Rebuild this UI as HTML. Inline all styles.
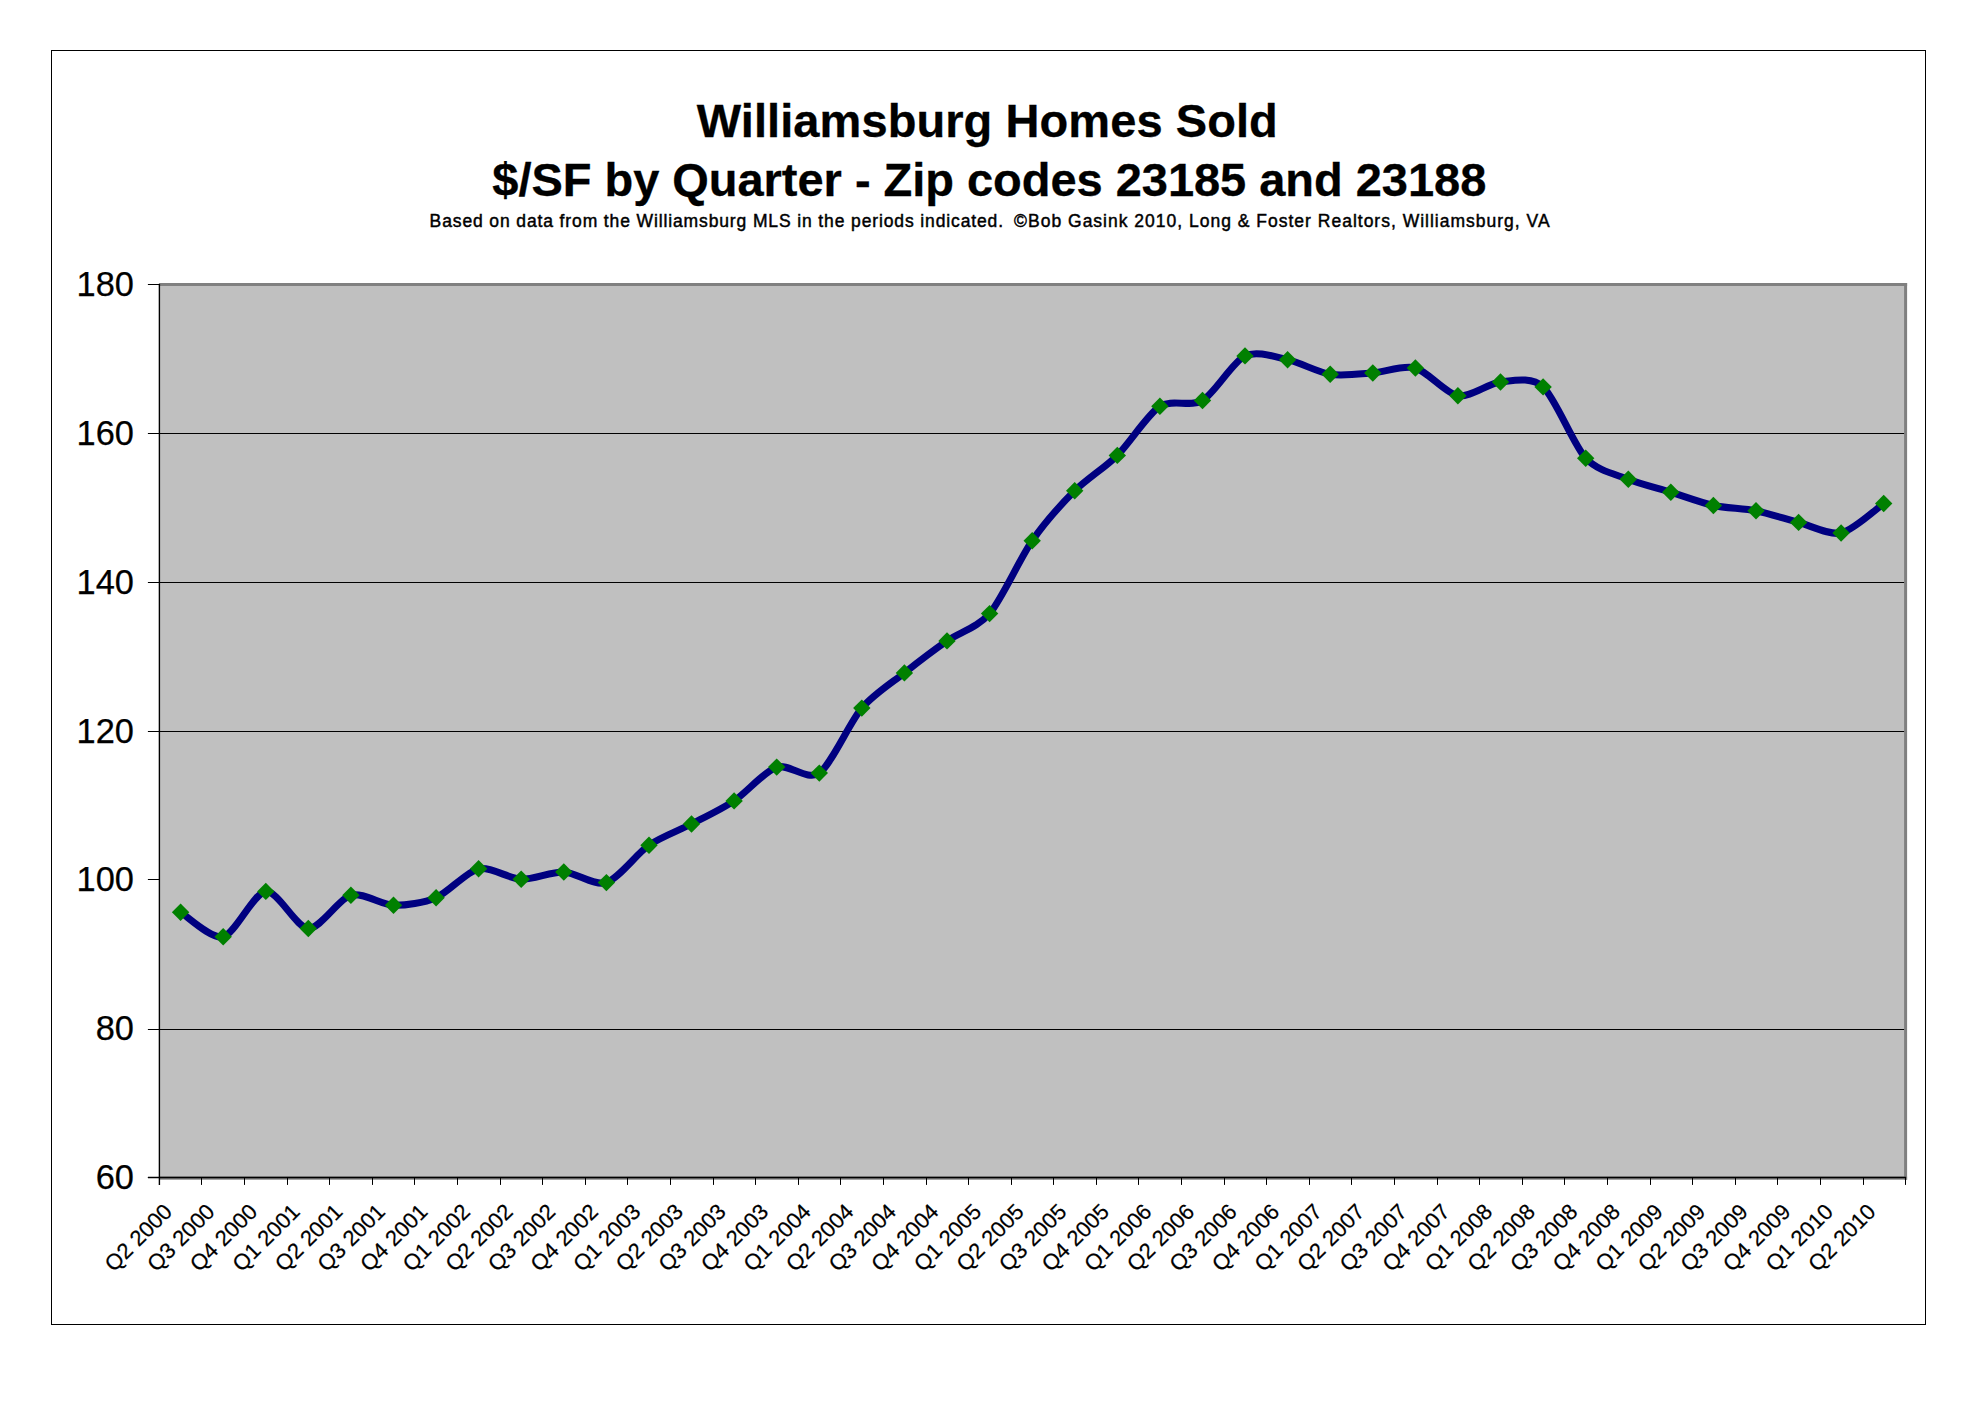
<!DOCTYPE html>
<html><head><meta charset="utf-8"><title>Williamsburg Homes Sold</title>
<style>
html,body{margin:0;padding:0;background:#fff;}
body{width:1985px;height:1407px;overflow:hidden;}
svg{display:block;font-family:"Liberation Sans",Arial,sans-serif;fill:#000;}
.t{font-weight:bold;font-size:47px;text-anchor:middle;stroke:#000;stroke-width:0.3px;}
.s{font-size:17.5px;text-anchor:middle;stroke:#000;stroke-width:0.45px;}
.y{font-size:34.4px;text-anchor:end;stroke:#000;stroke-width:0.25px;}
.x{font-size:22px;text-anchor:end;stroke:#000;stroke-width:0.2px;}
</style></head><body>
<svg width="1985" height="1407" viewBox="0 0 1985 1407">
<rect x="0" y="0" width="1985" height="1407" fill="#fff"/>
<rect x="51.5" y="50.5" width="1874" height="1274" fill="none" stroke="#000" stroke-width="1"/>

<rect x="159.4" y="284.5" width="1746.2" height="893.2" fill="#c0c0c0"/>
<rect x="158.9" y="283.0" width="1748.2" height="3" fill="#808080"/>
<rect x="1904.1" y="283.0" width="3" height="896.7" fill="#808080"/>
<rect x="159.4" y="1176.5" width="1747.7" height="3.2" fill="#808080"/>
<line x1="159.4" y1="1029.5" x2="1904.1" y2="1029.5" stroke="#000" stroke-width="1"/>
<line x1="159.4" y1="731.5" x2="1904.1" y2="731.5" stroke="#000" stroke-width="1"/>
<line x1="159.4" y1="582.5" x2="1904.1" y2="582.5" stroke="#000" stroke-width="1"/>
<line x1="159.4" y1="433.5" x2="1904.1" y2="433.5" stroke="#000" stroke-width="1"/>
<line x1="159.4" y1="284.0" x2="159.4" y2="1184.9" stroke="#000" stroke-width="1.4"/>
<line x1="147.9" y1="1177.5" x2="1906.1" y2="1177.5" stroke="#000" stroke-width="1.3"/>
<line x1="147.9" y1="1177.5" x2="159.4" y2="1177.5" stroke="#000" stroke-width="1"/>
<text class="y" x="134" y="1189.1">60</text>
<line x1="147.9" y1="1029.5" x2="159.4" y2="1029.5" stroke="#000" stroke-width="1"/>
<text class="y" x="134" y="1040.2">80</text>
<line x1="147.9" y1="879.5" x2="159.4" y2="879.5" stroke="#000" stroke-width="1"/>
<text class="y" x="134" y="891.4">100</text>
<line x1="147.9" y1="731.5" x2="159.4" y2="731.5" stroke="#000" stroke-width="1"/>
<text class="y" x="134" y="742.5">120</text>
<line x1="147.9" y1="582.5" x2="159.4" y2="582.5" stroke="#000" stroke-width="1"/>
<text class="y" x="134" y="593.6">140</text>
<line x1="147.9" y1="433.5" x2="159.4" y2="433.5" stroke="#000" stroke-width="1"/>
<text class="y" x="134" y="444.8">160</text>
<line x1="147.9" y1="284.5" x2="159.4" y2="284.5" stroke="#000" stroke-width="1"/>
<text class="y" x="134" y="295.9">180</text>
<line x1="159.5" y1="1177.7" x2="159.5" y2="1184.9" stroke="#000" stroke-width="1.05"/>
<line x1="201.5" y1="1177.7" x2="201.5" y2="1184.9" stroke="#000" stroke-width="1.05"/>
<line x1="244.5" y1="1177.7" x2="244.5" y2="1184.9" stroke="#000" stroke-width="1.05"/>
<line x1="287.5" y1="1177.7" x2="287.5" y2="1184.9" stroke="#000" stroke-width="1.05"/>
<line x1="329.5" y1="1177.7" x2="329.5" y2="1184.9" stroke="#000" stroke-width="1.05"/>
<line x1="372.5" y1="1177.7" x2="372.5" y2="1184.9" stroke="#000" stroke-width="1.05"/>
<line x1="414.5" y1="1177.7" x2="414.5" y2="1184.9" stroke="#000" stroke-width="1.05"/>
<line x1="457.5" y1="1177.7" x2="457.5" y2="1184.9" stroke="#000" stroke-width="1.05"/>
<line x1="500.5" y1="1177.7" x2="500.5" y2="1184.9" stroke="#000" stroke-width="1.05"/>
<line x1="542.5" y1="1177.7" x2="542.5" y2="1184.9" stroke="#000" stroke-width="1.05"/>
<line x1="585.5" y1="1177.7" x2="585.5" y2="1184.9" stroke="#000" stroke-width="1.05"/>
<line x1="627.5" y1="1177.7" x2="627.5" y2="1184.9" stroke="#000" stroke-width="1.05"/>
<line x1="670.5" y1="1177.7" x2="670.5" y2="1184.9" stroke="#000" stroke-width="1.05"/>
<line x1="713.5" y1="1177.7" x2="713.5" y2="1184.9" stroke="#000" stroke-width="1.05"/>
<line x1="755.5" y1="1177.7" x2="755.5" y2="1184.9" stroke="#000" stroke-width="1.05"/>
<line x1="798.5" y1="1177.7" x2="798.5" y2="1184.9" stroke="#000" stroke-width="1.05"/>
<line x1="840.5" y1="1177.7" x2="840.5" y2="1184.9" stroke="#000" stroke-width="1.05"/>
<line x1="883.5" y1="1177.7" x2="883.5" y2="1184.9" stroke="#000" stroke-width="1.05"/>
<line x1="926.5" y1="1177.7" x2="926.5" y2="1184.9" stroke="#000" stroke-width="1.05"/>
<line x1="968.5" y1="1177.7" x2="968.5" y2="1184.9" stroke="#000" stroke-width="1.05"/>
<line x1="1011.5" y1="1177.7" x2="1011.5" y2="1184.9" stroke="#000" stroke-width="1.05"/>
<line x1="1053.5" y1="1177.7" x2="1053.5" y2="1184.9" stroke="#000" stroke-width="1.05"/>
<line x1="1096.5" y1="1177.7" x2="1096.5" y2="1184.9" stroke="#000" stroke-width="1.05"/>
<line x1="1138.5" y1="1177.7" x2="1138.5" y2="1184.9" stroke="#000" stroke-width="1.05"/>
<line x1="1181.5" y1="1177.7" x2="1181.5" y2="1184.9" stroke="#000" stroke-width="1.05"/>
<line x1="1224.5" y1="1177.7" x2="1224.5" y2="1184.9" stroke="#000" stroke-width="1.05"/>
<line x1="1266.5" y1="1177.7" x2="1266.5" y2="1184.9" stroke="#000" stroke-width="1.05"/>
<line x1="1309.5" y1="1177.7" x2="1309.5" y2="1184.9" stroke="#000" stroke-width="1.05"/>
<line x1="1351.5" y1="1177.7" x2="1351.5" y2="1184.9" stroke="#000" stroke-width="1.05"/>
<line x1="1394.5" y1="1177.7" x2="1394.5" y2="1184.9" stroke="#000" stroke-width="1.05"/>
<line x1="1437.5" y1="1177.7" x2="1437.5" y2="1184.9" stroke="#000" stroke-width="1.05"/>
<line x1="1479.5" y1="1177.7" x2="1479.5" y2="1184.9" stroke="#000" stroke-width="1.05"/>
<line x1="1522.5" y1="1177.7" x2="1522.5" y2="1184.9" stroke="#000" stroke-width="1.05"/>
<line x1="1564.5" y1="1177.7" x2="1564.5" y2="1184.9" stroke="#000" stroke-width="1.05"/>
<line x1="1607.5" y1="1177.7" x2="1607.5" y2="1184.9" stroke="#000" stroke-width="1.05"/>
<line x1="1650.5" y1="1177.7" x2="1650.5" y2="1184.9" stroke="#000" stroke-width="1.05"/>
<line x1="1692.5" y1="1177.7" x2="1692.5" y2="1184.9" stroke="#000" stroke-width="1.05"/>
<line x1="1735.5" y1="1177.7" x2="1735.5" y2="1184.9" stroke="#000" stroke-width="1.05"/>
<line x1="1777.5" y1="1177.7" x2="1777.5" y2="1184.9" stroke="#000" stroke-width="1.05"/>
<line x1="1820.5" y1="1177.7" x2="1820.5" y2="1184.9" stroke="#000" stroke-width="1.05"/>
<line x1="1863.5" y1="1177.7" x2="1863.5" y2="1184.9" stroke="#000" stroke-width="1.05"/>
<line x1="1905.5" y1="1177.7" x2="1905.5" y2="1184.9" stroke="#000" stroke-width="1.05"/>
<path d="M180.6 912.3 C186.6 915.7 211.3 939.7 223.2 936.8 C235.1 933.9 253.8 892.6 265.8 891.4 C277.7 890.2 296.4 928.0 308.3 928.5 C320.3 929.0 339.0 898.4 350.9 895.2 C362.8 892.0 381.6 904.9 393.5 905.3 C405.4 905.6 424.1 902.8 436.1 897.7 C448.0 892.6 466.7 871.4 478.6 868.8 C490.6 866.2 509.3 878.9 521.2 879.3 C533.1 879.7 551.9 871.5 563.8 872.0 C575.7 872.5 594.5 886.4 606.4 882.6 C618.3 878.8 637.0 853.4 649.0 845.2 C660.9 837.0 679.6 830.2 691.5 824.0 C703.5 817.8 722.2 808.9 734.1 800.9 C746.0 792.9 764.8 771.0 776.7 767.1 C788.6 763.2 807.3 781.4 819.3 773.1 C831.2 764.8 849.9 722.1 861.8 708.1 C873.8 694.1 892.5 682.3 904.4 672.9 C916.3 663.5 935.1 649.2 947.0 640.9 C958.9 632.6 977.7 627.6 989.6 613.6 C1001.5 599.6 1020.2 557.9 1032.2 540.7 C1044.1 523.5 1062.8 502.7 1074.7 490.8 C1086.7 478.9 1105.4 467.2 1117.3 455.4 C1129.2 443.6 1148.0 414.0 1159.9 406.3 C1171.8 398.6 1190.6 407.6 1202.5 400.5 C1214.4 393.4 1233.1 361.6 1245.0 355.9 C1257.0 350.2 1275.7 357.1 1287.6 359.7 C1299.5 362.3 1318.3 372.4 1330.2 374.3 C1342.1 376.2 1360.9 373.9 1372.8 373.0 C1384.7 372.1 1403.4 364.8 1415.4 368.0 C1427.3 371.2 1446.0 393.7 1457.9 395.7 C1469.9 397.7 1488.6 383.2 1500.5 382.0 C1512.4 380.8 1531.2 376.2 1543.1 386.9 C1555.0 397.6 1573.8 445.3 1585.7 458.2 C1597.6 471.1 1616.3 474.5 1628.3 479.3 C1640.2 484.1 1658.9 488.5 1670.8 492.2 C1682.8 495.9 1701.5 502.9 1713.4 505.5 C1725.3 508.1 1744.1 508.4 1756.0 510.8 C1767.9 513.2 1786.6 519.3 1798.6 522.4 C1810.5 525.5 1829.2 535.6 1841.1 533.0 C1853.1 530.4 1877.8 507.6 1883.7 503.5" fill="none" stroke="#000080" stroke-width="7" stroke-linejoin="round" stroke-linecap="round"/>
<path d="M180.6 903.6 l8.7 8.7 l-8.7 8.7 l-8.7 -8.7 z" fill="#008000"/>
<path d="M223.2 928.1 l8.7 8.7 l-8.7 8.7 l-8.7 -8.7 z" fill="#008000"/>
<path d="M265.8 882.7 l8.7 8.7 l-8.7 8.7 l-8.7 -8.7 z" fill="#008000"/>
<path d="M308.3 919.8 l8.7 8.7 l-8.7 8.7 l-8.7 -8.7 z" fill="#008000"/>
<path d="M350.9 886.5 l8.7 8.7 l-8.7 8.7 l-8.7 -8.7 z" fill="#008000"/>
<path d="M393.5 896.6 l8.7 8.7 l-8.7 8.7 l-8.7 -8.7 z" fill="#008000"/>
<path d="M436.1 889.0 l8.7 8.7 l-8.7 8.7 l-8.7 -8.7 z" fill="#008000"/>
<path d="M478.6 860.1 l8.7 8.7 l-8.7 8.7 l-8.7 -8.7 z" fill="#008000"/>
<path d="M521.2 870.6 l8.7 8.7 l-8.7 8.7 l-8.7 -8.7 z" fill="#008000"/>
<path d="M563.8 863.3 l8.7 8.7 l-8.7 8.7 l-8.7 -8.7 z" fill="#008000"/>
<path d="M606.4 873.9 l8.7 8.7 l-8.7 8.7 l-8.7 -8.7 z" fill="#008000"/>
<path d="M649.0 836.5 l8.7 8.7 l-8.7 8.7 l-8.7 -8.7 z" fill="#008000"/>
<path d="M691.5 815.3 l8.7 8.7 l-8.7 8.7 l-8.7 -8.7 z" fill="#008000"/>
<path d="M734.1 792.2 l8.7 8.7 l-8.7 8.7 l-8.7 -8.7 z" fill="#008000"/>
<path d="M776.7 758.4 l8.7 8.7 l-8.7 8.7 l-8.7 -8.7 z" fill="#008000"/>
<path d="M819.3 764.4 l8.7 8.7 l-8.7 8.7 l-8.7 -8.7 z" fill="#008000"/>
<path d="M861.8 699.4 l8.7 8.7 l-8.7 8.7 l-8.7 -8.7 z" fill="#008000"/>
<path d="M904.4 664.2 l8.7 8.7 l-8.7 8.7 l-8.7 -8.7 z" fill="#008000"/>
<path d="M947.0 632.2 l8.7 8.7 l-8.7 8.7 l-8.7 -8.7 z" fill="#008000"/>
<path d="M989.6 604.9 l8.7 8.7 l-8.7 8.7 l-8.7 -8.7 z" fill="#008000"/>
<path d="M1032.2 532.0 l8.7 8.7 l-8.7 8.7 l-8.7 -8.7 z" fill="#008000"/>
<path d="M1074.7 482.1 l8.7 8.7 l-8.7 8.7 l-8.7 -8.7 z" fill="#008000"/>
<path d="M1117.3 446.7 l8.7 8.7 l-8.7 8.7 l-8.7 -8.7 z" fill="#008000"/>
<path d="M1159.9 397.6 l8.7 8.7 l-8.7 8.7 l-8.7 -8.7 z" fill="#008000"/>
<path d="M1202.5 391.8 l8.7 8.7 l-8.7 8.7 l-8.7 -8.7 z" fill="#008000"/>
<path d="M1245.0 347.2 l8.7 8.7 l-8.7 8.7 l-8.7 -8.7 z" fill="#008000"/>
<path d="M1287.6 351.0 l8.7 8.7 l-8.7 8.7 l-8.7 -8.7 z" fill="#008000"/>
<path d="M1330.2 365.6 l8.7 8.7 l-8.7 8.7 l-8.7 -8.7 z" fill="#008000"/>
<path d="M1372.8 364.3 l8.7 8.7 l-8.7 8.7 l-8.7 -8.7 z" fill="#008000"/>
<path d="M1415.4 359.3 l8.7 8.7 l-8.7 8.7 l-8.7 -8.7 z" fill="#008000"/>
<path d="M1457.9 387.0 l8.7 8.7 l-8.7 8.7 l-8.7 -8.7 z" fill="#008000"/>
<path d="M1500.5 373.3 l8.7 8.7 l-8.7 8.7 l-8.7 -8.7 z" fill="#008000"/>
<path d="M1543.1 378.2 l8.7 8.7 l-8.7 8.7 l-8.7 -8.7 z" fill="#008000"/>
<path d="M1585.7 449.5 l8.7 8.7 l-8.7 8.7 l-8.7 -8.7 z" fill="#008000"/>
<path d="M1628.3 470.6 l8.7 8.7 l-8.7 8.7 l-8.7 -8.7 z" fill="#008000"/>
<path d="M1670.8 483.5 l8.7 8.7 l-8.7 8.7 l-8.7 -8.7 z" fill="#008000"/>
<path d="M1713.4 496.8 l8.7 8.7 l-8.7 8.7 l-8.7 -8.7 z" fill="#008000"/>
<path d="M1756.0 502.1 l8.7 8.7 l-8.7 8.7 l-8.7 -8.7 z" fill="#008000"/>
<path d="M1798.6 513.7 l8.7 8.7 l-8.7 8.7 l-8.7 -8.7 z" fill="#008000"/>
<path d="M1841.1 524.3 l8.7 8.7 l-8.7 8.7 l-8.7 -8.7 z" fill="#008000"/>
<path d="M1883.7 494.8 l8.7 8.7 l-8.7 8.7 l-8.7 -8.7 z" fill="#008000"/>
<text class="x" transform="translate(173.4 1213.0) rotate(-45)" x="0" y="0">Q2 2000</text>
<text class="x" transform="translate(216.0 1213.0) rotate(-45)" x="0" y="0">Q3 2000</text>
<text class="x" transform="translate(258.6 1213.0) rotate(-45)" x="0" y="0">Q4 2000</text>
<text class="x" transform="translate(301.2 1213.0) rotate(-45)" x="0" y="0">Q1 2001</text>
<text class="x" transform="translate(343.8 1213.0) rotate(-45)" x="0" y="0">Q2 2001</text>
<text class="x" transform="translate(386.3 1213.0) rotate(-45)" x="0" y="0">Q3 2001</text>
<text class="x" transform="translate(428.9 1213.0) rotate(-45)" x="0" y="0">Q4 2001</text>
<text class="x" transform="translate(471.5 1213.0) rotate(-45)" x="0" y="0">Q1 2002</text>
<text class="x" transform="translate(514.1 1213.0) rotate(-45)" x="0" y="0">Q2 2002</text>
<text class="x" transform="translate(556.7 1213.0) rotate(-45)" x="0" y="0">Q3 2002</text>
<text class="x" transform="translate(599.3 1213.0) rotate(-45)" x="0" y="0">Q4 2002</text>
<text class="x" transform="translate(641.9 1213.0) rotate(-45)" x="0" y="0">Q1 2003</text>
<text class="x" transform="translate(684.5 1213.0) rotate(-45)" x="0" y="0">Q2 2003</text>
<text class="x" transform="translate(727.1 1213.0) rotate(-45)" x="0" y="0">Q3 2003</text>
<text class="x" transform="translate(769.7 1213.0) rotate(-45)" x="0" y="0">Q4 2003</text>
<text class="x" transform="translate(812.2 1213.0) rotate(-45)" x="0" y="0">Q1 2004</text>
<text class="x" transform="translate(854.8 1213.0) rotate(-45)" x="0" y="0">Q2 2004</text>
<text class="x" transform="translate(897.4 1213.0) rotate(-45)" x="0" y="0">Q3 2004</text>
<text class="x" transform="translate(940.0 1213.0) rotate(-45)" x="0" y="0">Q4 2004</text>
<text class="x" transform="translate(982.6 1213.0) rotate(-45)" x="0" y="0">Q1 2005</text>
<text class="x" transform="translate(1025.2 1213.0) rotate(-45)" x="0" y="0">Q2 2005</text>
<text class="x" transform="translate(1067.8 1213.0) rotate(-45)" x="0" y="0">Q3 2005</text>
<text class="x" transform="translate(1110.4 1213.0) rotate(-45)" x="0" y="0">Q4 2005</text>
<text class="x" transform="translate(1153.0 1213.0) rotate(-45)" x="0" y="0">Q1 2006</text>
<text class="x" transform="translate(1195.6 1213.0) rotate(-45)" x="0" y="0">Q2 2006</text>
<text class="x" transform="translate(1238.2 1213.0) rotate(-45)" x="0" y="0">Q3 2006</text>
<text class="x" transform="translate(1280.7 1213.0) rotate(-45)" x="0" y="0">Q4 2006</text>
<text class="x" transform="translate(1323.3 1213.0) rotate(-45)" x="0" y="0">Q1 2007</text>
<text class="x" transform="translate(1365.9 1213.0) rotate(-45)" x="0" y="0">Q2 2007</text>
<text class="x" transform="translate(1408.5 1213.0) rotate(-45)" x="0" y="0">Q3 2007</text>
<text class="x" transform="translate(1451.1 1213.0) rotate(-45)" x="0" y="0">Q4 2007</text>
<text class="x" transform="translate(1493.7 1213.0) rotate(-45)" x="0" y="0">Q1 2008</text>
<text class="x" transform="translate(1536.3 1213.0) rotate(-45)" x="0" y="0">Q2 2008</text>
<text class="x" transform="translate(1578.9 1213.0) rotate(-45)" x="0" y="0">Q3 2008</text>
<text class="x" transform="translate(1621.5 1213.0) rotate(-45)" x="0" y="0">Q4 2008</text>
<text class="x" transform="translate(1664.1 1213.0) rotate(-45)" x="0" y="0">Q1 2009</text>
<text class="x" transform="translate(1706.6 1213.0) rotate(-45)" x="0" y="0">Q2 2009</text>
<text class="x" transform="translate(1749.2 1213.0) rotate(-45)" x="0" y="0">Q3 2009</text>
<text class="x" transform="translate(1791.8 1213.0) rotate(-45)" x="0" y="0">Q4 2009</text>
<text class="x" transform="translate(1834.4 1213.0) rotate(-45)" x="0" y="0">Q1 2010</text>
<text class="x" transform="translate(1877.0 1213.0) rotate(-45)" x="0" y="0">Q2 2010</text>
<text class="t" x="987.3" y="137.4" textLength="581" lengthAdjust="spacing">Williamsburg Homes Sold</text>
<text class="t" x="989.3" y="195.8" textLength="994" lengthAdjust="spacing">$/SF by Quarter - Zip codes 23185 and 23188</text>
<text class="s" style="text-anchor:start" x="429.6" y="227.4" textLength="573.5" lengthAdjust="spacing">Based on data from the Williamsburg MLS in the periods indicated.</text>
<text class="s" style="text-anchor:end" x="1549.6" y="227.4" textLength="535.5" lengthAdjust="spacing">©Bob Gasink 2010, Long &amp; Foster Realtors, Williamsburg, VA</text>
</svg></body></html>
